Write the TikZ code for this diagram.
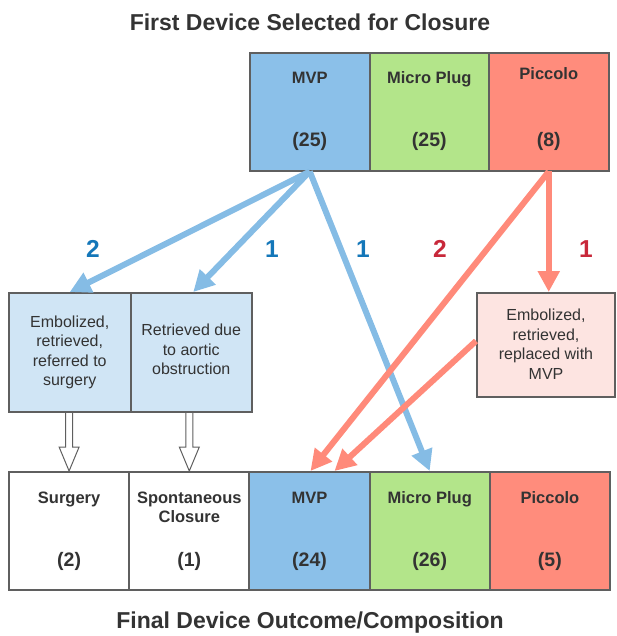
\documentclass[tikz,border=0pt]{standalone}
\usepackage{fontspec}
\setmainfont{Liberation Sans}
\usetikzlibrary{arrows.meta,calc}
\definecolor{mvpfill}{HTML}{8BC0E9}
\definecolor{plugfill}{HTML}{B3E58A}
\definecolor{picfill}{HTML}{FF8C7C}
\definecolor{lbluefill}{HTML}{D0E5F5}
\definecolor{lpinkfill}{HTML}{FDE4E1}
\definecolor{arrblue}{HTML}{85BCE5}
\definecolor{arrred}{HTML}{FF8A7A}
\definecolor{numblue}{HTML}{1477B9}
\definecolor{numred}{HTML}{C8283A}
\definecolor{edge}{HTML}{5F5F5F}
\definecolor{ink}{HTML}{333333}
\begin{document}
\begin{tikzpicture}[x=1pt,y=-1pt,
  box/.style={draw=edge,line width=2pt,anchor=north west,inner sep=0pt,text=ink},
  devlbl/.style={font=\fontsize{16.5}{19.5}\selectfont\bfseries,text=ink,align=center,anchor=base},
  cnt/.style={font=\fontsize{19.5}{22}\selectfont\bfseries,text=ink,anchor=base},
  midtxt/.style={font=\fontsize{16}{19.5}\selectfont,text=ink,align=center},
  ttl/.style={font=\fontsize{23}{27}\selectfont\bfseries,text=ink},
  num/.style={font=\fontsize{24.5}{28}\selectfont\bfseries},
  barrow/.style={draw=arrblue,line width=6pt,-{Triangle[length=21pt,width=21pt]}},
  rarrow/.style={draw=arrred,line width=6pt,-{Triangle[length=21pt,width=21pt]}},
  hollow/.style={draw=edge,line width=1pt,fill=white,line join=miter}
]
\useasboundingbox (0,0) rectangle (616,636);
% titles
\node[ttl] (tt) at (310,22) {First Device Selected for Closure};
\node[ttl] (bt) at (310,623) {Final Device Outcome/Composition};
% top row
\node[box,fill=mvpfill,minimum width=119.5pt,minimum height=118.5pt] (t1) at (249,52) {};
\node[box,fill=plugfill,minimum width=119.5pt,minimum height=118.5pt] (t2) at (368.5,52) {};
\node[box,fill=picfill,minimum width=119.5pt,minimum height=118.5pt] (t3) at (488,52) {};
\node[devlbl] (t1a) at ($(t1.north)+(0,32)$) {MVP};
\node[cnt] (t1b) at ($(t1.north)+(0,95)$) {(25)};
\node[devlbl] (t2a) at ($(t2.north)+(0,32)$) {Micro Plug};
\node[cnt] (t2b) at ($(t2.north)+(0,95)$) {(25)};
\node[devlbl] (t3a) at ($(t3.north)+(0,28)$) {Piccolo};
\node[cnt] (t3b) at ($(t3.north)+(0,95)$) {(8)};
% middle boxes
\node[box,fill=lbluefill,minimum width=121.5pt,minimum height=119pt] (e1) at (8,292) {};
\node[box,fill=lbluefill,minimum width=121.5pt,minimum height=119pt] (e2) at (129.5,292) {};
\node[box,fill=lpinkfill,minimum width=138pt,minimum height=104pt] (r) at (476,292) {};
\node[midtxt] (e1t) at (e1.center) {Embolized,\\retrieved,\\referred to\\surgery};
\node[midtxt] (e2t) at ($(e2.center)+(0,-3)$) {Retrieved due\\to aortic\\obstruction};
\node[midtxt] (rt) at ($(r.center)+(0,-1)$) {Embolized,\\retrieved,\\replaced with\\MVP};
% bottom row
\node[box,fill=white,minimum width=120.2pt,minimum height=118pt] (s1) at (8,471) {};
\node[box,fill=white,minimum width=120.2pt,minimum height=118pt] (s2) at (128.2,471) {};
\node[box,fill=mvpfill,minimum width=120.2pt,minimum height=118pt] (b3) at (248.4,471) {};
\node[box,fill=plugfill,minimum width=120.2pt,minimum height=118pt] (b4) at (368.6,471) {};
\node[box,fill=picfill,minimum width=120.2pt,minimum height=118pt] (b5) at (488.8,471) {};
\node[devlbl] (s1a) at ($(s1.north)+(0,32)$) {Surgery};
\node[cnt] (s1b) at ($(s1.north)+(0,95)$) {(2)};
\node[devlbl] (s2a) at ($(s2.north)+(0,32)$) {Spontaneous};
\node[devlbl] (s2c) at ($(s2.north)+(0,51.5)$) {Closure};
\node[cnt] (s2b) at ($(s2.north)+(0,95)$) {(1)};
\node[devlbl] (b3a) at ($(b3.north)+(0,32)$) {MVP};
\node[cnt] (b3b) at ($(b3.north)+(0,95)$) {(24)};
\node[devlbl] (b4a) at ($(b4.north)+(0,32)$) {Micro Plug};
\node[cnt] (b4b) at ($(b4.north)+(0,95)$) {(26)};
\node[devlbl] (b5a) at ($(b5.north)+(0,32)$) {Piccolo};
\node[cnt] (b5b) at ($(b5.north)+(0,95)$) {(5)};
% coloured arrows
\coordinate (ts1) at ($(t1.south)+(0,-1)$);
\coordinate (ts3) at ($(t3.south)+(0,-1)$);
\draw[barrow] (ts1) -- (e1.north);
\draw[barrow] (ts1) -- ($(e2.north)+(2,0)$);
\draw[barrow] (ts1) -- (b4.north);
\draw[rarrow] (ts3) -- (ts3 |- r.north);
\draw[rarrow] (ts3) -- ($(b3.north)+(1,0)$);
\draw[rarrow] ($(r.west)+(0,-4)$) -- ($(b3.north)+(25,0)$);
% hollow arrows
\foreach \a/\b in {e1/s1,e2/s2}{
  \draw[hollow] ($(\b.north |- \a.south)+(-3.5,0)$) -- ($(\b.north)+(-3.5,-24)$) -- ($(\b.north)+(-10,-24)$)
    -- (\b.north) -- ($(\b.north)+(10,-24)$) -- ($(\b.north)+(3.5,-24)$) -- ($(\b.north |- \a.south)+(3.5,0)$);
}
% counts
\node[num,text=numblue] (n1) at (93,249) {2};
\node[num,text=numblue] (n2) at (272,249) {1};
\node[num,text=numblue] (n3) at (363,249) {1};
\node[num,text=numred] (n4) at (440,249) {2};
\node[num,text=numred] (n5) at (586,249) {1};
\end{tikzpicture}
\end{document}
